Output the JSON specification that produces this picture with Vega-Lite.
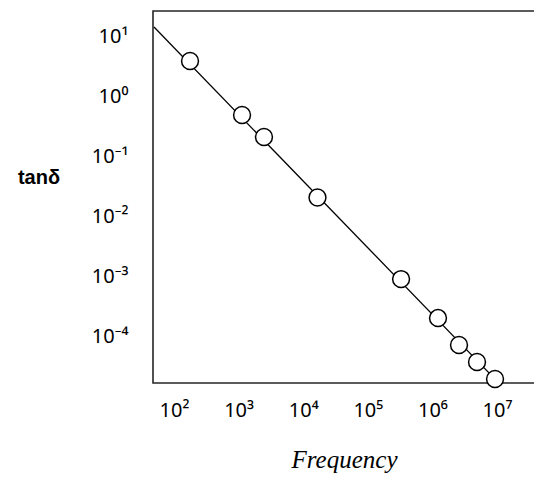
{
  "$schema": "https://vega.github.io/schema/vega-lite/v6.json",
  "autosize": "none",
  "width": 382,
  "height": 372,
  "padding": {"left": 153, "top": 11, "right": 0, "bottom": 94},
  "background": "white",
  "config": {
    "view": {"stroke": "#262626", "strokeWidth": 1.6},
    "axis": {"grid": false, "ticks": false, "domain": false, "labelColor": "#000", "titleColor": "#000"}
  },
  "datasets": {
    "points": [
      {"freq": 177, "tand": 3.93},
      {"freq": 1130, "tand": 0.493},
      {"freq": 2470, "tand": 0.212},
      {"freq": 16630, "tand": 0.0207},
      {"freq": 327000, "tand": 0.00090},
      {"freq": 1220000, "tand": 0.000201},
      {"freq": 2580000, "tand": 0.0000713},
      {"freq": 4900000, "tand": 0.0000371},
      {"freq": 9310000, "tand": 0.0000193}
    ],
    "fit": [
      {"freq": 49, "tand": 14.5},
      {"freq": 10700000, "tand": 0.0000165}
    ]
  },
  "layer": [
    {
      "data": {"name": "fit"},
      "mark": {"type": "line", "color": "#000", "strokeWidth": 1.3, "clip": true},
      "encoding": {
        "x": {
          "field": "freq", "type": "quantitative",
          "scale": {"type": "log", "domain": [47.3, 38700000], "nice": false},
          "axis": {
            "values": [100, 1000, 10000, 100000, 1000000, 10000000],
            "labelExpr": "'10' + ['⁰','¹','²','³','⁴','⁵','⁶','⁷','⁸'][round(log(datum.value)/LN10)]",
            "labelFont": "Noto Sans", "labelFontSize": 20, "labelPadding": 17,
            "title": "Frequency", "titleFont": "Liberation Serif", "titleFontStyle": "italic",
            "titleFontWeight": "normal", "titleFontSize": 25,
            "titleX": 191, "titleY": 84, "titleAlign": "center", "titleBaseline": "alphabetic", "titleAnchor": null
          }
        },
        "y": {
          "field": "tand", "type": "quantitative",
          "scale": {"type": "log", "domain": [0.00001656, 26.9], "nice": false},
          "axis": {
            "values": [10, 1, 0.1, 0.01, 0.001, 0.0001],
            "labelExpr": "'10' + (round(log(datum.value)/LN10) < 0 ? '⁻' : '') + ['⁰','¹','²','³','⁴','⁵'][abs(round(log(datum.value)/LN10))]",
            "labelFont": "Noto Sans", "labelFontSize": 20, "labelPadding": 25,
            "title": "tanδ", "titleFont": "Liberation Sans", "titleFontWeight": "bold", "titleFontSize": 20,
            "titleAngle": 0, "titleX": -114.5, "titleY": 166.5, "titleAlign": "center", "titleBaseline": "middle"
          }
        }
      }
    },
    {
      "data": {"name": "points"},
      "mark": {"type": "point", "shape": "circle", "filled": true, "fill": "white", "stroke": "#000", "strokeWidth": 1.5, "size": 285, "opacity": 1},
      "encoding": {
        "x": {"field": "freq", "type": "quantitative"},
        "y": {"field": "tand", "type": "quantitative"}
      }
    }
  ]
}
